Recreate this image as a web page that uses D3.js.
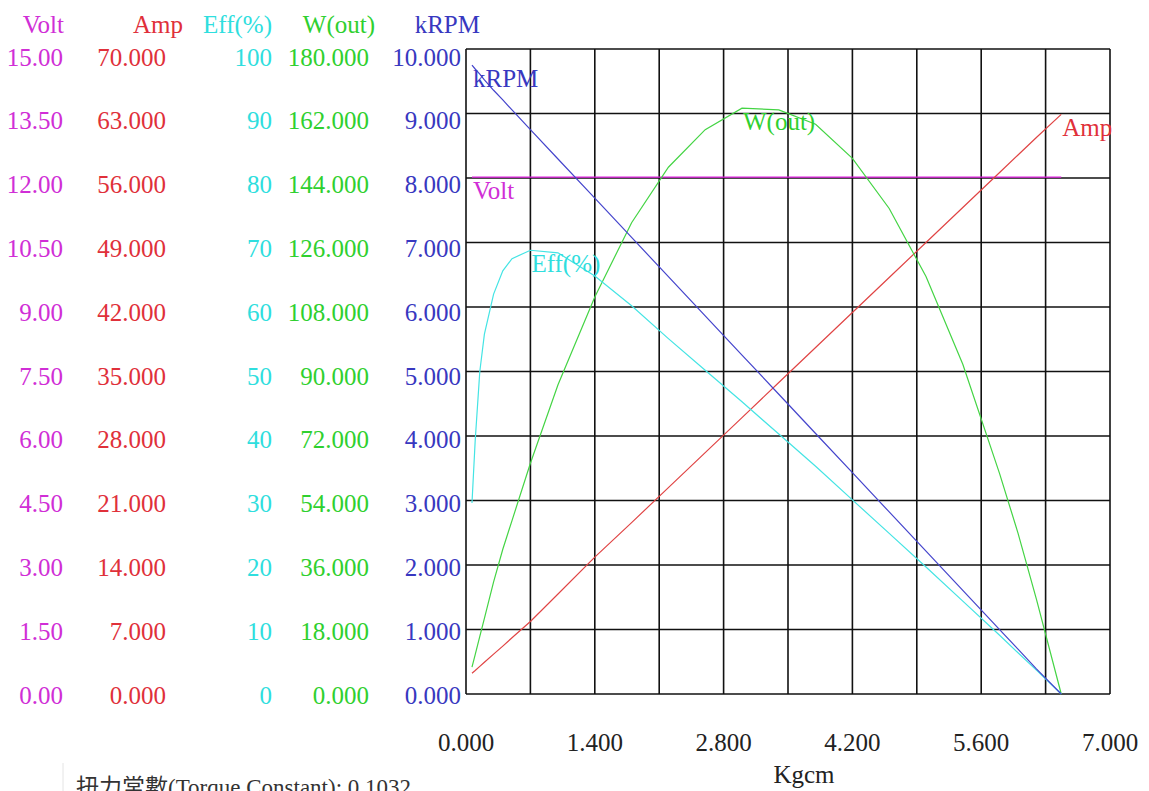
<!DOCTYPE html>
<html>
<head>
<meta charset="utf-8">
<script src="https://cdn.jsdelivr.net/npm/d3@7"></script>
<style>
  html, body { margin: 0; padding: 0; background: #fff; }
  svg { display: block; }
  text { font-family: "Liberation Serif", "Times New Roman", "Noto Sans CJK TC", serif; }
</style>
</head>
<body>
<svg id="chart" width="1149" height="791"></svg>
<script>
// ---- data ----
const torque = [0.065, 0.1, 0.15, 0.2, 0.3, 0.4, 0.5, 0.7, 1.0, 1.4, 1.8, 2.2, 2.6, 3.0, 3.4, 3.8, 4.2, 4.6, 5.0, 5.4, 5.8, 6.0, 6.2, 6.47];
const volt   = [12.02, 12.02, 12.02, 12.02, 12.02, 12.02, 12.02, 12.02, 12.02, 12.02, 12.02, 12.02, 12.02, 12.02, 12.02, 12.02, 12.02, 12.02, 12.02, 12.02, 12.02, 12.02, 12.02, 12.02];
const amp    = [2.25, 2.55, 3.0, 3.45, 4.33, 5.2, 6.1, 7.87, 10.85, 14.85, 18.6, 22.4, 26.2, 30.0, 33.8, 37.6, 41.4, 45.2, 49.0, 52.8, 56.6, 58.5, 60.4, 62.9];
const eff    = [29.6, 39.3, 50.0, 55.8, 62.0, 65.6, 67.5, 68.8, 68.4, 64.8, 60.2, 55.1, 50.2, 45.3, 40.3, 35.3, 30.1, 24.9, 19.7, 14.4, 9.1, 6.4, 3.7, 0];
const wout   = [7.5, 11.0, 16.1, 21.1, 31.3, 40.4, 48.4, 64.4, 86.3, 110.8, 131.5, 147.0, 157.5, 163.5, 163.0, 159.0, 149.5, 135.5, 116.5, 92.0, 61.5, 44.9, 26.5, 0];
const krpm   = [9.75, 9.69, 9.61, 9.52, 9.36, 9.21, 9.055, 8.75, 8.295, 7.687, 7.079, 6.471, 5.863, 5.255, 4.647, 4.039, 3.431, 2.823, 2.215, 1.607, 0.999, 0.695, 0.39, 0];

const xTicks     = [0, 1.4, 2.8, 4.2, 5.6, 7.0];
const voltTicks  = [15, 13.5, 12, 10.5, 9, 7.5, 6, 4.5, 3, 1.5, 0];
const ampTicks   = [70, 63, 56, 49, 42, 35, 28, 21, 14, 7, 0];
const effTicks   = [100, 90, 80, 70, 60, 50, 40, 30, 20, 10, 0];
const woutTicks  = [180, 162, 144, 126, 108, 90, 72, 54, 36, 18, 0];
const krpmTicks  = [10, 9, 8, 7, 6, 5, 4, 3, 2, 1, 0];

const seriesNames = ["Volt", "Amp", "Eff(%)", "W(out)", "kRPM"];
const xTitle = "Kgcm";
const footnote = "扭力常數(Torque Constant): 0.1032";

// ---- layout ----
const svg = d3.select("#chart");
const L = 466, R = 1110, T = 49, B = 694;
const FS = 25;

const x = d3.scaleLinear().domain([0, 7]).range([L, R]);
const yRow = d3.scaleLinear().domain([0, 10]).range([B, T]);
const yLab = d3.scaleLinear().domain([0, 10]).range([695, 57]);

const scales = {
  "Volt":   d3.scaleLinear().domain([0, 15]).range([B, T]),
  "Amp":    d3.scaleLinear().domain([0, 70]).range([B, T]),
  "Eff(%)": d3.scaleLinear().domain([0, 100]).range([B, T]),
  "W(out)": d3.scaleLinear().domain([0, 180]).range([B, T]),
  "kRPM":   d3.scaleLinear().domain([0, 10]).range([B, T])
};
const textColor = {
  "Volt": "#d02ed6", "Amp": "#e0303a", "Eff(%)": "#2fdede", "W(out)": "#2fd02f", "kRPM": "#3838c0"
};
const lineColor = {
  "Volt": "#e020e0", "Amp": "#e04444", "Eff(%)": "#44e4e4", "W(out)": "#44d444", "kRPM": "#4444cc"
};
const values = { "Volt": volt, "Amp": amp, "Eff(%)": eff, "W(out)": wout, "kRPM": krpm };
const ticks  = { "Volt": voltTicks, "Amp": ampTicks, "Eff(%)": effTicks, "W(out)": woutTicks, "kRPM": krpmTicks };
const fmt    = {
  "Volt": d3.format(".2f"), "Amp": d3.format(".3f"), "Eff(%)": d3.format("d"),
  "W(out)": d3.format(".3f"), "kRPM": d3.format(".3f")
};
const valueRight  = { "Volt": 63, "Amp": 166, "Eff(%)": 272, "W(out)": 369, "kRPM": 461 };
const headerRight = { "Volt": 64, "Amp": 183, "Eff(%)": 272, "W(out)": 375, "kRPM": 480 };

// ---- grid ----
const g = svg.append("g");
const colLines = d3.range(0, 7.0001, 0.7);
g.selectAll("line.v").data(colLines).join("line")
  .attr("x1", d => x(d)).attr("x2", d => x(d))
  .attr("y1", T).attr("y2", B)
  .attr("stroke", "#111").attr("stroke-width", 1.6);
g.selectAll("line.h").data(d3.range(0, 11)).join("line")
  .attr("x1", L).attr("x2", R)
  .attr("y1", d => yRow(d)).attr("y2", d => yRow(d))
  .attr("stroke", "#111").attr("stroke-width", 1.6);

// ---- left value columns ----
seriesNames.forEach(name => {
  const s = scales[name];
  const n = ticks[name];
  svg.append("text")
    .attr("x", headerRight[name]).attr("y", 33)
    .attr("text-anchor", "end")
    .attr("font-size", FS)
    .attr("fill", textColor[name])
    .text(name);
  svg.selectAll(null).data(n).join("text")
    .attr("x", valueRight[name])
    .attr("y", d => yLab(d / s.domain()[1] * 10) + 8.5)
    .attr("text-anchor", "end")
    .attr("font-size", FS)
    .attr("fill", textColor[name])
    .text(d => fmt[name](d));
});

// ---- x tick labels ----
svg.selectAll(null).data(xTicks).join("text")
  .attr("x", d => x(d)).attr("y", 751)
  .attr("text-anchor", "middle")
  .attr("font-size", FS).attr("fill", "#222")
  .text(d => d3.format(".3f")(d));
svg.append("text").attr("x", 804).attr("y", 783)
  .attr("text-anchor", "middle").attr("font-size", FS).attr("fill", "#222")
  .text(xTitle);

// ---- series lines ----
const order = ["Volt", "Amp", "W(out)", "Eff(%)", "kRPM"];
order.forEach(name => {
  const s = scales[name];
  const vals = values[name];
  const line = d3.line().x((d, i) => x(torque[i])).y(d => s(d));
  svg.append("path")
    .datum(vals)
    .attr("d", line)
    .attr("fill", "none")
    .attr("stroke", lineColor[name])
    .attr("stroke-width", 1.2);
});

// ---- series labels anchored on data points ----
const anchorIndex = {
  "kRPM": 0,
  "Volt": 0,
  "Eff(%)": d3.maxIndex(eff),
  "W(out)": d3.maxIndex(wout),
  "Amp": torque.length - 1
};
seriesNames.forEach(name => {
  const i = anchorIndex[name];
  svg.append("text")
    .attr("x", x(torque[i]) + 1)
    .attr("y", scales[name](values[name][i]) + 22)
    .attr("font-size", FS)
    .attr("fill", textColor[name])
    .text(name);
});

// ---- footnote ----
svg.append("line").attr("x1", 63).attr("x2", 63).attr("y1", 763).attr("y2", 791)
  .attr("stroke", "#e4e4e4").attr("stroke-width", 1);
svg.append("text").attr("x", 76).attr("y", 795)
  .attr("font-size", 23).attr("fill", "#333")
  .text(footnote);
</script>
</body>
</html>
